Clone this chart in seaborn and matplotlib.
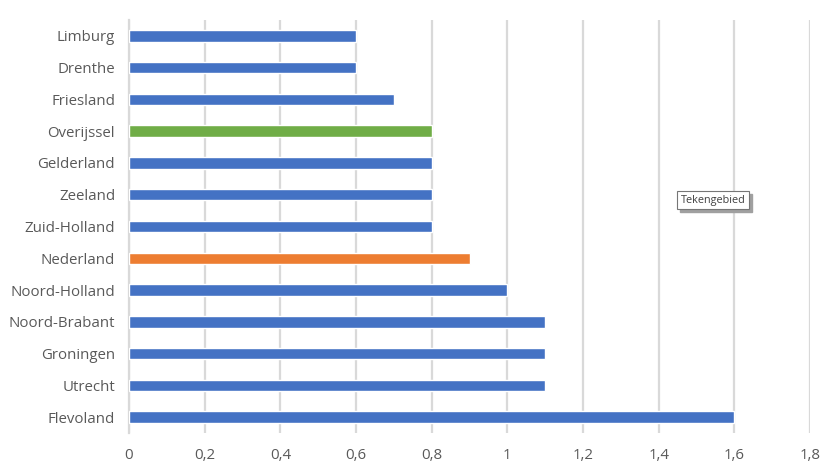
import matplotlib
matplotlib.use("Agg")
import matplotlib.pyplot as plt
import seaborn as sns
import pandas as pd
from matplotlib.ticker import FuncFormatter

provinces = ["Limburg", "Drenthe", "Friesland", "Overijssel", "Gelderland", "Zeeland",
             "Zuid-Holland", "Nederland", "Noord-Holland", "Noord-Brabant", "Groningen",
             "Utrecht", "Flevoland"]
values = [0.6, 0.6, 0.7, 0.8, 0.8, 0.8, 0.8, 0.9, 1.0, 1.1, 1.1, 1.1, 1.6]
bar_colors = ["#4472C4", "#4472C4", "#4472C4", "#70AD47", "#4472C4", "#4472C4",
              "#4472C4", "#ED7D31", "#4472C4", "#4472C4", "#4472C4", "#4472C4", "#4472C4"]
x_ticks = [0, 0.2, 0.4, 0.6, 0.8, 1.0, 1.2, 1.4, 1.6, 1.8]

df = pd.DataFrame({"provincie": provinces, "waarde": values})

sns.set_style("white")
plt.rcParams["font.family"] = ["Open Sans", "DejaVu Sans"]

fig = plt.figure(figsize=(8.31, 4.74), dpi=100)
ax = fig.add_axes([129/831, 1 - 433/474, (810 - 129)/831, (433 - 20)/474])

sns.barplot(data=df, y="provincie", x="waarde", hue="provincie",
            palette=dict(zip(provinces, bar_colors)), orient="h", saturation=1,
            width=0.36, legend=False, ax=ax, zorder=3)

ax.set_xlim(0, 1.8)
ax.set_ylim(len(provinces) - 0.5, -0.5)
ax.set_xticks(x_ticks)
ax.xaxis.set_major_formatter(FuncFormatter(
    lambda v, p: ("%g" % round(v, 1)).replace(".", ",")))
ax.grid(axis="x", color="#D9D9D9", linewidth=1.6, zorder=0)
ax.grid(axis="y", visible=False)
for s in ["top", "right", "bottom"]:
    ax.spines[s].set_visible(False)
ax.spines["left"].set_color("#D9D9D9")
ax.spines["left"].set_linewidth(1.6)
ax.set_xlabel("")
ax.set_ylabel("")
ax.tick_params(axis="both", length=0, labelsize=10.8, labelcolor="#595959")
ax.tick_params(axis="x", pad=11)
ax.tick_params(axis="y", pad=10)

# tooltip-like label
fig.text(716/831, 1 - 203/474, "Tekengebied", fontsize=7.8, color="#A0A0A0", alpha=0,
         ha="center", va="center",
         bbox=dict(boxstyle="square,pad=0.3", facecolor="#A0A0A0", edgecolor="#A0A0A0"))
fig.text(713/831, 1 - 200/474, "Tekengebied", fontsize=7.8, color="#404040",
         ha="center", va="center",
         bbox=dict(boxstyle="square,pad=0.3", facecolor="white", edgecolor="#767676",
                   linewidth=0.8))

fig.savefig("out.png", dpi=100)
